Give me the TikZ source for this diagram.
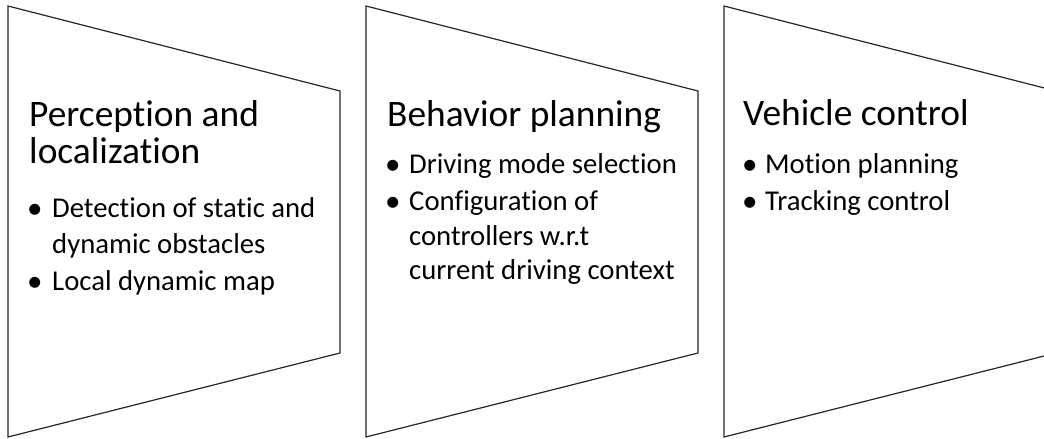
\documentclass[tikz,border=0pt]{standalone}
\usepackage{fontspec}
\setmainfont{Carlito}[Ligatures=NoCommon]
\begin{document}
\begin{tikzpicture}[x=1bp,y=-1bp,
  panel/.style={draw=black!85, line width=1.2bp, fill=white, line join=miter},
  title/.style={anchor=base west, inner sep=0pt, font=\fontsize{37.4bp}{40bp}\selectfont, text=black},
  item/.style={anchor=base west, inner sep=0pt, font=\fontsize{28.7bp}{34bp}\selectfont, text=black},
  bul/.style={anchor=base west, inner sep=0pt, font=\fontsize{31bp}{34bp}\selectfont, text=black}]
\useasboundingbox (0,0) rectangle (1044,439);
\clip (0,0) rectangle (1044,439);
% panels
\foreach \L/\n in {8/p1,366/p2,724/p3}{
  \coordinate (\n tl) at (\L,6);
  \coordinate (\n tr) at (\L+332,91);
  \coordinate (\n br) at (\L+332,353);
  \coordinate (\n bl) at (\L,437);
  \draw[panel] (\n tl) -- (\n tr) -- (\n br) -- (\n bl) -- cycle;
}
% panel 1
\node[title] (t1a) at (29,127) {Perception and};
\node[title] (t1b) at (29,164) {localization};
\node[bul]   (b1a) at (27,218.5) {\textbullet};
\node[item]  (i1a) at (52,218) {Detection of static and};
\node[item]  (i1b) at (52,254) {dynamic obstacles};
\node[bul]   (b1b) at (27,291.5) {\textbullet};
\node[item]  (i1c) at (52,291) {Local dynamic map};
% panel 2
\node[title] (t2a) at (387,127) {Behavior planning};
\node[bul]   (b2a) at (385,174.5) {\textbullet};
\node[item]  (i2a) at (409,174) {Driving mode selection};
\node[bul]   (b2b) at (385,211.5) {\textbullet};
\node[item]  (i2b) at (409,211) {Configuration of};
\node[item]  (i2c) at (409,246) {controllers w.r.t};
\node[item]  (i2d) at (409,280) {current driving context};
% panel 3
\node[title] (t3a) at (743,126) {Vehicle control};
\node[bul]   (b3a) at (742,174.5) {\textbullet};
\node[item]  (i3a) at (765,174) {Motion planning};
\node[bul]   (b3b) at (742,211.5) {\textbullet};
\node[item]  (i3b) at (765,211) {Tracking control};
\end{tikzpicture}
\end{document}
